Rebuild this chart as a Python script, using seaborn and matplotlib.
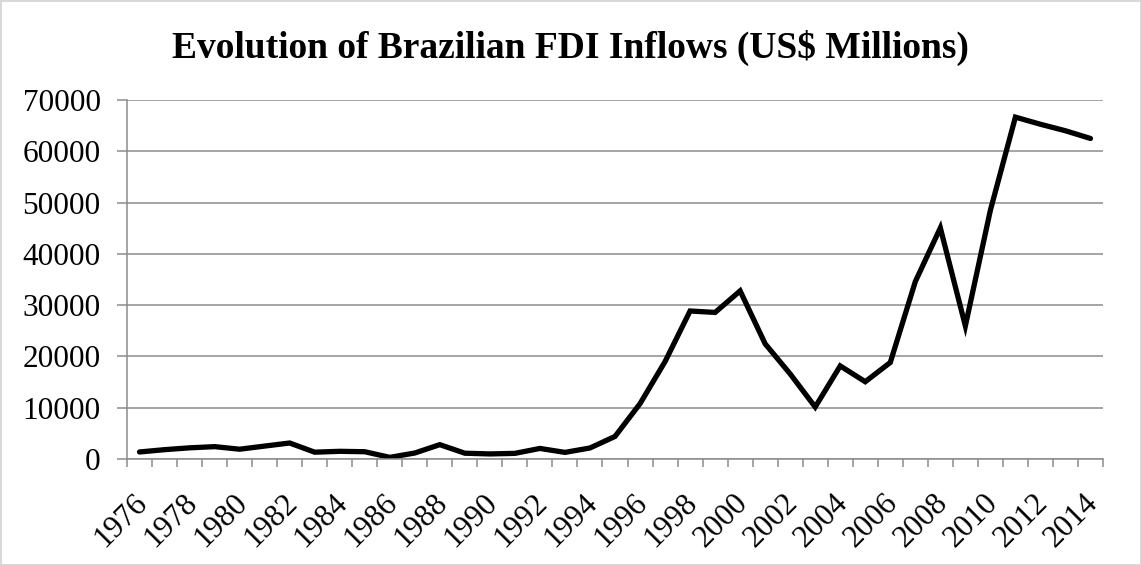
import numpy as np
import pandas as pd
import seaborn as sns
import matplotlib.pyplot as plt
import matplotlib.transforms as mtransforms
from matplotlib.ticker import MultipleLocator, FixedLocator

years = list(range(1976, 2015))
fdi = [1370, 1820, 2180, 2410, 1910, 2520, 3120, 1330, 1500, 1420,
       320, 1170, 2800, 1130, 990, 1100, 2060, 1290, 2150, 4400,
       10790, 18990, 28860, 28580, 32780, 22460, 16590, 10140, 18150, 15070,
       18820, 34590, 45060, 25950, 48510, 66660, 65270, 64000, 62500]
tick_years = years[::2]

df = pd.DataFrame({"year": years, "fdi": fdi})

sns.set_theme(style="white")
plt.rcParams["font.family"] = ["Liberation Serif", "DejaVu Serif"]
plt.rcParams["text.color"] = "black"
plt.rcParams["xtick.labelcolor"] = "black"
plt.rcParams["ytick.labelcolor"] = "black"

fig = plt.figure(figsize=(11.41, 5.65), dpi=100)
ax = fig.add_axes([0.1113, 0.1876, 0.8554, 0.6354])

sns.lineplot(data=df, x="year", y="fdi", ax=ax, color="black", linewidth=3.8,
             solid_joinstyle="miter", solid_capstyle="round")

ax.set_xlim(years[0] - 0.5, years[-1] + 0.5)
ax.set_ylim(0, 70000)
ax.yaxis.set_major_locator(MultipleLocator(10000))
ax.grid(axis="y", color="#8c8c8c", linewidth=1.1)
ax.set_axisbelow(True)

# x ticks at category boundaries, labels at every other year
ax.xaxis.set_major_locator(FixedLocator(tick_years))
ax.xaxis.set_minor_locator(FixedLocator([y - 0.5 for y in years] + [years[-1] + 0.5]))
ax.set_xticklabels([str(y) for y in tick_years], rotation=45, ha="right", va="top",
                   rotation_mode="anchor", fontsize=22.5)
ax.tick_params(axis="x", which="major", length=0, pad=21)
ax.tick_params(axis="x", which="minor", bottom=True, length=6, width=1.1, color="#8c8c8c")
ax.tick_params(axis="y", left=True, length=7, width=1.1, color="#8c8c8c", labelsize=22.5, pad=12)

for side in ["top", "right"]:
    ax.spines[side].set_visible(False)
for side in ["left", "bottom"]:
    ax.spines[side].set_color("#8c8c8c")
    ax.spines[side].set_linewidth(1.1)

ax.set_xlabel("")
ax.set_ylabel("")
fig.text(0.5, 0.915, "Evolution of Brazilian FDI Inflows (US$ Millions)",
         ha="center", va="center", fontsize=27, fontweight="bold")

fig.patch.set_edgecolor("#d9d9d9")
fig.patch.set_linewidth(2)

# nudge rotated year labels a little left, like the original
fig.canvas.draw()
shift = mtransforms.ScaledTranslation(-7 / 100, 0, fig.dpi_scale_trans)
for tick in ax.xaxis.get_major_ticks():
    tick.label1.set_transform(tick.label1.get_transform() + shift)

fig.savefig("out.png", dpi=100)
